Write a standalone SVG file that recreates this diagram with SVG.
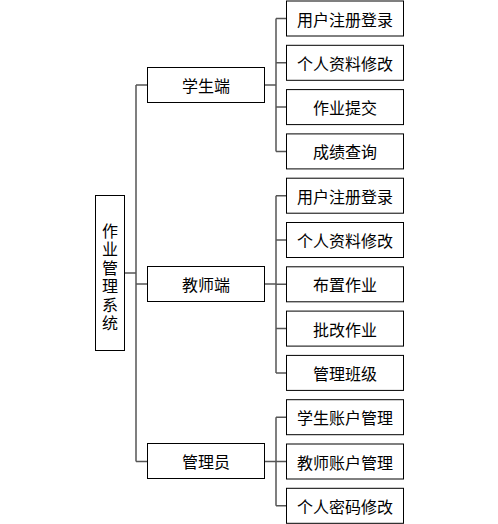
<svg xmlns="http://www.w3.org/2000/svg" width="498" height="524" viewBox="0 0 498 524">
<style>
rect{fill:#fff;stroke:#000;stroke-width:1}
text{font-family:"Noto Sans CJK SC","Noto Sans",sans-serif;font-size:16px;fill:#000;text-anchor:middle;dominant-baseline:central}
.v{writing-mode:vertical-rl;text-orientation:upright;letter-spacing:2.4px;text-anchor:start}
.c{fill:none;stroke:#555;stroke-width:1.5}
</style>
<rect x="0" y="0" width="498" height="524" style="stroke:none"/>
<g id="connectors">
<path class="c" d="M124.5 273H136M136 85V461.5M136 85H147.5M136 284H147.5M136 461.5H147.5"/>
<path class="c" d="M264.5 85H276M276 18.5V151.4M276 18.5H286.5M276 62.8H286.5M276 107.1H286.5M276 151.4H286.5"/>
<path class="c" d="M264.5 284H276M276 195.7V372.9M276 195.7H286.5M276 240H286.5M276 284.3H286.5M276 328.6H286.5M276 372.9H286.5"/>
<path class="c" d="M264.5 461.5H276M276 417.2V505.8M276 417.2H286.5M276 461.5H286.5M276 505.8H286.5"/>
</g>
<g id="root">
<rect x="95.5" y="195.5" width="29" height="155"/>
<text class="v" x="110" y="223">作业管理系统</text>
</g>
<g id="student"><rect x="147.5" y="67.5" width="117" height="35"/><text x="206" y="85">学生端</text></g>
<g id="teacher"><rect x="147.5" y="266.5" width="117" height="35"/><text x="206" y="284">教师端</text></g>
<g id="admin"><rect x="147.5" y="443.5" width="117" height="35"/><text x="206" y="461">管理员</text></g>
<g id="s1"><rect x="286.5" y="1" width="117" height="35"/><text x="345" y="18.5">用户注册登录</text></g>
<g id="s2"><rect x="286.5" y="45.3" width="117" height="35"/><text x="345" y="62.8">个人资料修改</text></g>
<g id="s3"><rect x="286.5" y="89.6" width="117" height="35"/><text x="345" y="107.1">作业提交</text></g>
<g id="s4"><rect x="286.5" y="133.9" width="117" height="35"/><text x="345" y="151.4">成绩查询</text></g>
<g id="t1"><rect x="286.5" y="178.2" width="117" height="35"/><text x="345" y="195.7">用户注册登录</text></g>
<g id="t2"><rect x="286.5" y="222.5" width="117" height="35"/><text x="345" y="240">个人资料修改</text></g>
<g id="t3"><rect x="286.5" y="266.8" width="117" height="35"/><text x="345" y="284.3">布置作业</text></g>
<g id="t4"><rect x="286.5" y="311.1" width="117" height="35"/><text x="345" y="328.6">批改作业</text></g>
<g id="t5"><rect x="286.5" y="355.4" width="117" height="35"/><text x="345" y="372.9">管理班级</text></g>
<g id="a1"><rect x="286.5" y="399.7" width="117" height="35"/><text x="345" y="417.2">学生账户管理</text></g>
<g id="a2"><rect x="286.5" y="444" width="117" height="35"/><text x="345" y="461.5">教师账户管理</text></g>
<g id="a3"><rect x="286.5" y="488.3" width="117" height="35"/><text x="345" y="505.8">个人密码修改</text></g>
</svg>
